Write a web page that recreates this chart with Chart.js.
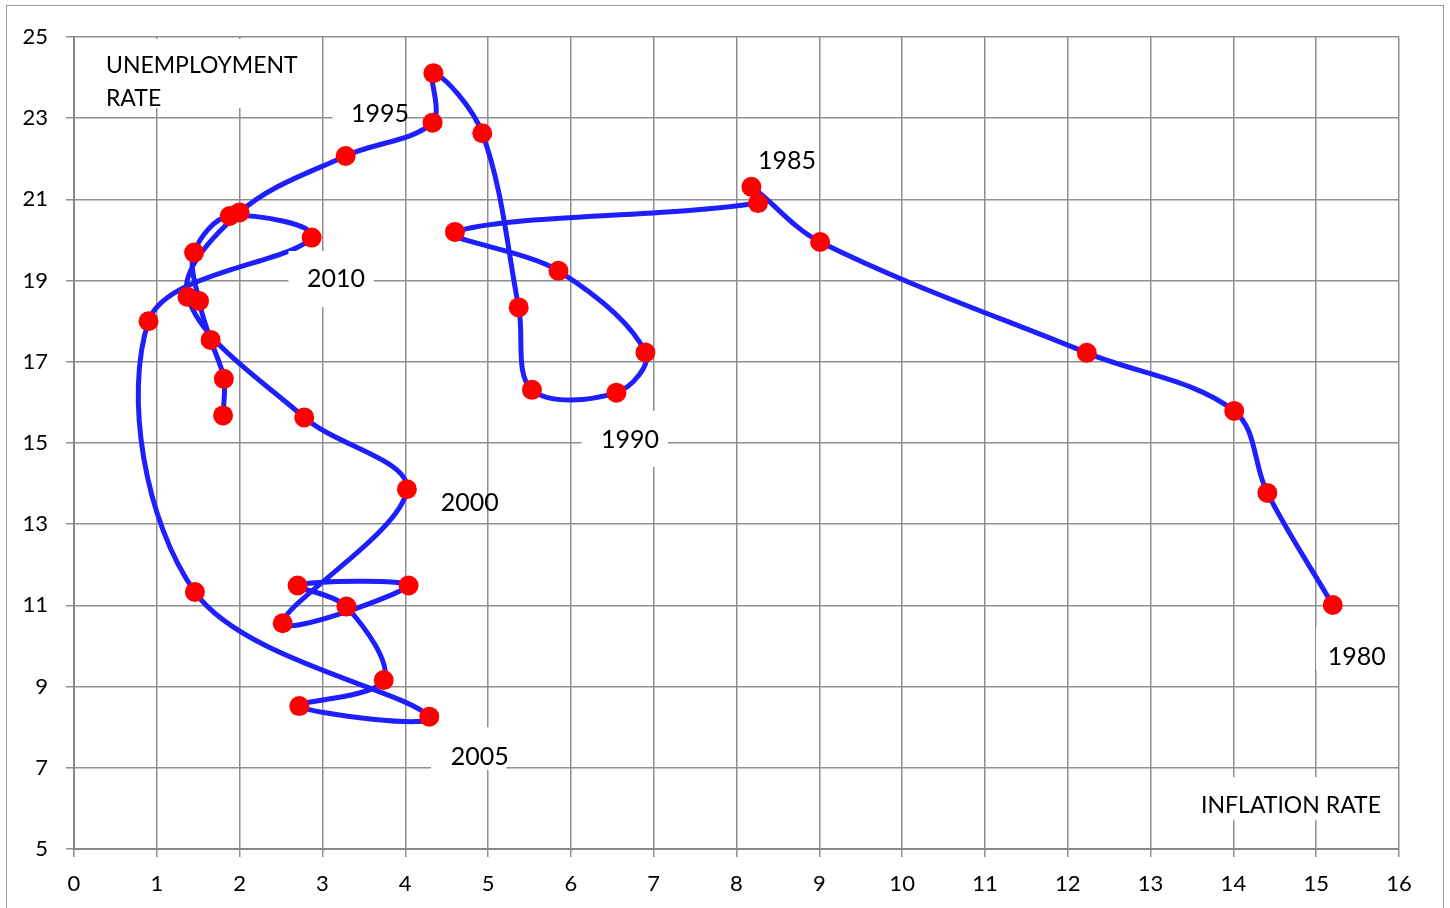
<!DOCTYPE html>
<html>
<head>
<meta charset="utf-8">
<script src="https://cdn.jsdelivr.net/npm/chart.js@4.4.1/dist/chart.umd.min.js"></script>
<style>
    html, body { margin: 0; padding: 0; background: #fff; }
    #frame { position: absolute; left: 6px; top: 5px; width: 1436px; height: 920px; border: 1px solid #9a9a9a; }
    #phillips { position: absolute; left: 0; top: 0; }
</style>
</head>
<body>
<div id="frame"></div>
<canvas id="phillips" width="1450" height="908"></canvas>
<script>
// one point per year, 1980 .. 2016
let years = [];
for (let yr = 1980; yr <= 2016; yr++) years.push(yr);

let inflation = [15.20, 14.41, 14.01, 12.23, 9.01, 8.18, 8.26, 4.60, 5.85, 6.90,
    6.55, 5.53, 5.37, 4.93, 4.34, 4.33, 3.28, 2.00, 1.37, 2.78,
    4.02, 2.52, 4.04, 2.70, 3.29, 3.74, 2.72, 4.29, 1.46, 0.90,
    2.87, 1.88, 1.45, 1.51, 1.65, 1.81, 1.80];

let unemployment = [11.01, 13.77, 15.79, 17.22, 19.95, 21.31, 20.91, 20.20, 19.24, 17.23,
    16.24, 16.31, 18.34, 22.63, 24.11, 22.89, 22.07, 20.68, 18.60, 15.63,
    13.86, 10.56, 11.49, 11.49, 10.97, 9.16, 8.52, 8.26, 11.33, 18.00,
    20.06, 20.59, 19.69, 18.50, 17.54, 16.58, 15.68];

let xTicks = [0, 16, 1];   // min, max, step
let yTicks = [5, 25, 2];

// text boxes placed in chart units (like the Excel text boxes)
let notes = [
    { lines: ['UNEMPLOYMENT', 'RATE'], x: 0.386, y: 24.29, size: 23, box: [0.19, 2.95, 24.95, 23.25] },
    { lines: ['1995'], x: 3.345, y: 23.10, size: 25, box: [3.12, 3.98, 23.79, 22.78] },
    { lines: ['1985'], x: 8.26, y: 21.95, size: 25, box: null },
    { lines: ['2010'], x: 2.814, y: 19.04, size: 25, box: [2.59, 3.62, 19.73, 18.35] },
    { lines: ['1990'], x: 6.365, y: 15.07, size: 25, box: [6.13, 7.17, 15.79, 14.41] },
    { lines: ['2000'], x: 4.43, y: 13.52, size: 25, box: null },
    { lines: ['2005'], x: 4.55, y: 7.27, size: 25, box: [4.31, 5.22, 8.00, 6.95] },
    { lines: ['1980'], x: 15.14, y: 9.73, size: 25, box: [15.0, 15.97, 10.47, 9.41] },
    { lines: ['INFLATION RATE'], x: 13.61, y: 6.06, size: 23, box: [13.48, 15.92, 6.77, 5.71] }
];

const FONT = 'Lato, "Open Sans", sans-serif';

let notesPlugin = {
    id: 'notes',
    afterDatasetsDraw(chart) {
        let ctx = chart.ctx;
        let sx = chart.scales.x, sy = chart.scales.y;
        ctx.save();
        notes.forEach(function (n) {
            if (n.box) {
                let x1 = sx.getPixelForValue(n.box[0]), x2 = sx.getPixelForValue(n.box[1]);
                let y1 = sy.getPixelForValue(n.box[2]), y2 = sy.getPixelForValue(n.box[3]);
                ctx.fillStyle = '#fff';
                ctx.fillRect(x1, y1, x2 - x1, y2 - y1);
            }
            ctx.fillStyle = '#000';
            ctx.font = n.size + 'px ' + FONT;
            ctx.textAlign = 'left';
            ctx.textBaseline = 'middle';
            let px = sx.getPixelForValue(n.x);
            let py = sy.getPixelForValue(n.y);
            n.lines.forEach(function (t, i) {
                ctx.fillText(t, px, py + i * 33);
            });
        });
        ctx.restore();
    }
};

let points = years.map(function (yr, i) {
    return { x: inflation[i], y: unemployment[i] };
});

let ctx1 = document.getElementById('phillips').getContext('2d');
let chart = new Chart(ctx1, {
    type: 'scatter',
    data: {
        datasets: [{
            label: 'Phillips curve',
            data: points,
            showLine: true,
            tension: 0.35,
            borderColor: '#1e1eff',
            borderWidth: 5,
            pointRadius: 10,
            pointHoverRadius: 10,
            pointBackgroundColor: '#ff0000',
            pointBorderWidth: 0
        }]
    },
    options: {
        responsive: false,
        animation: false,
        devicePixelRatio: 1,
        layout: { padding: { left: 0, top: 37, right: 51, bottom: 0 } },
        plugins: {
            legend: { display: false },
            tooltip: { enabled: false }
        },
        scales: {
            x: {
                type: 'linear',
                min: xTicks[0],
                max: xTicks[1],
                afterFit: function (scale) { scale.height = 59; },
                ticks: { stepSize: xTicks[2], color: '#000', padding: 14, font: { family: FONT, size: 22 } },
                grid: { color: '#8f8f8f', lineWidth: 1.5, tickLength: 8 },
                border: { color: '#888', width: 2 }
            },
            y: {
                type: 'linear',
                min: yTicks[0],
                max: yTicks[1],
                afterFit: function (scale) { scale.width = 74; },
                ticks: { stepSize: yTicks[2], color: '#000', padding: 18, font: { family: FONT, size: 22 } },
                grid: { color: '#8f8f8f', lineWidth: 1.5, tickLength: 8 },
                border: { color: '#888', width: 2 }
            }
        }
    },
    plugins: [notesPlugin]
});
</script>
</body>
</html>
